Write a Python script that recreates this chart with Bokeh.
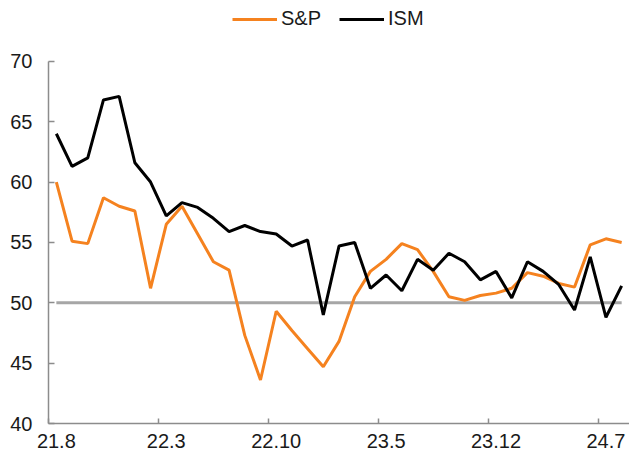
from bokeh.plotting import figure
from bokeh.models import Range1d, FixedTicker, Legend, LegendItem, ColumnDataSource
from bokeh.embed import file_html
from bokeh.resources import INLINE

months = ["21.8", "21.9", "21.10", "21.11", "21.12",
          "22.1", "22.2", "22.3", "22.4", "22.5", "22.6", "22.7", "22.8", "22.9", "22.10", "22.11", "22.12",
          "23.1", "23.2", "23.3", "23.4", "23.5", "23.6", "23.7", "23.8", "23.9", "23.10", "23.11", "23.12",
          "24.1", "24.2", "24.3", "24.4", "24.5", "24.6", "24.7", "24.8"]
sp = [60.0, 55.1, 54.9, 58.7, 58.0, 57.6, 51.2, 56.5, 58.0, 55.7, 53.4, 52.7, 47.3, 43.6, 49.3,
      47.7, 46.2, 44.7, 46.8, 50.5, 52.6, 53.6, 54.9, 54.4, 52.6, 50.5, 50.2, 50.6, 50.8,
      51.2, 52.5, 52.2, 51.6, 51.3, 54.8, 55.3, 55.0]
ism = [64.0, 61.3, 62.0, 66.8, 67.1, 61.6, 60.0, 57.2, 58.3, 57.9, 57.0, 55.9, 56.4, 55.9, 55.7,
       54.7, 55.2, 49.0, 54.7, 55.0, 51.2, 52.3, 51.0, 53.6, 52.7, 54.1, 53.4, 51.9, 52.6,
       50.4, 53.4, 52.6, 51.5, 49.4, 53.8, 48.8, 51.4]
threshold = [50.0] * len(months)
y_ticks = [40, 45, 50, 55, 60, 65, 70]
label_months = ["21.8", "22.3", "22.10", "23.5", "23.12", "24.7"]

x = list(range(len(months)))
src = ColumnDataSource(dict(x=x, sp=sp, ism=ism, th=threshold))

FONT = "Liberation Sans"

# frame spans the full height above the x axis; the value axis itself stops at 70
p = figure(width=629, height=459, output_backend="svg", toolbar_location=None,
           x_range=Range1d(-0.5, len(months) - 0.5), y_range=Range1d(40, 75.04),
           min_border_left=48, min_border_right=0, min_border_top=0, min_border_bottom=36)
p.outline_line_color = None
p.grid.grid_line_color = None
p.background_fill_color = "white"
p.border_fill_color = "white"

p.line("x", "th", source=src, line_color="#A6A6A6", line_width=3)
r_sp = p.line("x", "sp", source=src, line_color="#F5821F", line_width=3)
r_ism = p.line("x", "ism", source=src, line_color="#000000", line_width=3)

label_idx = [months.index(m) for m in label_months]
xa = p.xaxis[0]
xa.ticker = FixedTicker(ticks=label_idx, minor_ticks=[i - 0.5 for i in label_idx])
xa.major_label_overrides = {i: months[i] for i in label_idx}
xa.major_tick_in = 0
xa.major_tick_out = 0
xa.minor_tick_in = 5
xa.minor_tick_out = 0
xa.minor_tick_line_color = "#8C8C8C"
xa.minor_tick_line_width = 1.5
xa.axis_line_color = "#8C8C8C"
xa.axis_line_width = 1.5
xa.major_label_text_font = FONT
xa.major_label_text_font_size = "20px"
xa.major_label_text_color = "#1a1a1a"
xa.major_label_standoff = 10

ya = p.yaxis[0]
ya.ticker = FixedTicker(ticks=y_ticks)
ya.bounds = (min(y_ticks), max(y_ticks))
ya.major_tick_in = 6
ya.major_tick_out = 0
ya.minor_tick_line_color = None
ya.major_tick_line_color = "#8C8C8C"
ya.major_tick_line_width = 1.5
ya.axis_line_color = "#8C8C8C"
ya.axis_line_width = 1.5
ya.major_label_text_font = FONT
ya.major_label_text_font_size = "20px"
ya.major_label_text_color = "#1a1a1a"
ya.major_label_standoff = 16

legend = Legend(items=[LegendItem(label="S&P", renderers=[r_sp]),
                       LegendItem(label="ISM", renderers=[r_ism])],
                orientation="horizontal", location=(184, 393),
                label_text_font=FONT, label_text_font_size="20px", label_text_color="#1a1a1a",
                glyph_width=45, glyph_height=20, label_standoff=4, spacing=18,
                padding=0, margin=0, border_line_color=None, background_fill_alpha=0)
p.add_layout(legend, "center")

open("out.html", "w").write(file_html(p, INLINE))
